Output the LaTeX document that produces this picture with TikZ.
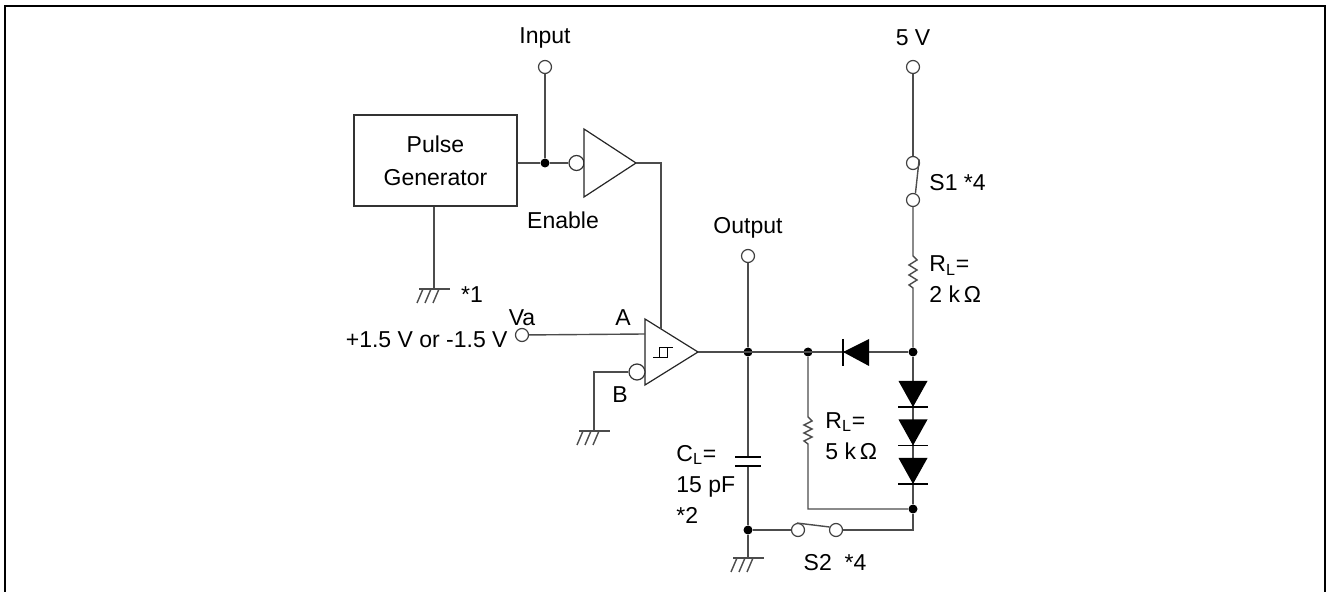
\documentclass[tikz,border=0pt]{standalone}
\usepackage{fontspec}
\setmainfont{Liberation Sans}

\begin{document}
\begin{tikzpicture}[x=0.5pt, y=-0.5pt,
    wire/.style={draw=black!70, line width=0.7pt},
    term/.style={circle, draw=black!75, line width=0.6pt, fill=white, inner sep=0pt, minimum size=6.5pt},
    dot/.style={circle, fill=black, inner sep=0pt, minimum size=4.5pt},
    bubble/.style={circle, draw=black!80, line width=0.6pt, fill=white, inner sep=0pt, minimum size=7.5pt},
    box/.style={rectangle, draw=black!80, line width=0.6pt, minimum width=81.5pt, minimum height=45.5pt,
        align=center, font=\fontsize{11.5}{16.5}\selectfont},
    lbl/.style={font=\fontsize{11.5}{15.5}\selectfont, inner sep=0pt},
    gate/.style={draw=black!85, line width=0.6pt, fill=white},
    gnd/.pic={
        \draw[wire] (-15,0) -- (16,0);
        \foreach \d in {-11,-3,5} \draw[wire] (\d,0) -- ++(-6,14);
    }
]
\useasboundingbox (0,0) rectangle (1327,592);

% Frame
\draw[line width=1.2pt] (5,592) -- (5,6) -- (1325,6) -- (1325,592);

% Terminals
\node[term] (in) at (545,67) {};
\node[lbl] (inlbl) at (545,38) {Input};
\node[term] (vcc) at (913,67) {};
\node[lbl] (vcclbl) at (913,38) {5 V};
\node[term] (out) at (748,256) {};
\node[lbl] (outlbl) at (748,228) {Output};
\node[term] (va) at (522,335) {};
\node[lbl] (valbl) at (522,318) {Va};
\node[lbl, anchor=east] (vasrc) at (508,340) {+1.5 V or -1.5 V};

% Pulse generator and enable buffer
\node[box] (pg) at (435.5,160.5) {Pulse\\Generator};
\node[dot] (j1) at (545,163) {};
\node[bubble] (enbub) at (576.5,163) {};
\coordinate (gpg) at (434,289);
\draw[gate] (584,129) -- (636,163) coordinate (bufout) -- (584,197) -- cycle;

% Comparator
\draw[gate] (645,319) -- (698,352) coordinate (cmpout) -- (645,385) -- cycle;
\coordinate (cmpa) at (645,334);
\coordinate (cmpen) at (661,329);
\node[bubble, minimum size=8pt] (bbub) at (637,372) {};
\coordinate (gb) at (594,431);
\draw[line width=0.5pt] (653,358) -- (667,358) -- (667,348);
\draw[line width=0.5pt] (659,358) -- (659,348) -- (673,348);

% Output network
\node[dot] (d1) at (748,352) {};
\node[dot] (d2) at (808,352) {};
\node[dot] (d3) at (913,352) {};
\node[dot] (d4) at (748,530) {};
\node[dot] (d5) at (913,509) {};
\coordinate (ctop) at (748,457);
\coordinate (cbot) at (748,466);
\coordinate (gout) at (748,558);
\coordinate (s2c) at (913,530);
\node[term] (s1a) at (913,163) {};
\node[term] (s1b) at (913,200) {};
\node[term] (s2a) at (798,530) {};
\node[term] (s2b) at (836,530) {};

% Wires
\draw[wire] (in) -- (j1);
\draw[wire] (pg.east |- j1) -- (j1) -- (enbub);
\draw[wire] (bufout) -| (cmpen);
\draw[wire] (gpg |- pg.south) -- (gpg);
\draw[wire] (va) -- (cmpa);
\draw[wire] (bbub) -| (gb);
\draw[wire] (cmpout) -- (d3);
\draw[wire] (out) -- (d1);
\draw[wire] (d1) -- (ctop);
\draw[wire] (cbot) -- (d4) -- (gout);
\draw[wire] (d4) -- (s2a);
\draw[wire] (s2b) -- (s2c) -- (d5);
\draw[wire] (vcc) -- (s1a);
\draw[wire] (s1a.30) -- (s1b.70);
\draw[wire] (s2a.100) -- (s2b.155);
\draw[wire] (s1b) -- (913,256) -- (917,260) -- (909,265) -- (917,270) -- (909,275) -- (917,280) -- (909,285) -- (913,288) -- (d3);
\draw[wire] (d3) -- (d5);
\draw[wire] (d2) -- (808,417) -- (812,421) -- (804,425) -- (812,429) -- (804,433) -- (812,437) -- (804,441) -- (808,444) |- (d5);

% Grounds
\pic at (gpg) {gnd};
\pic at (gb) {gnd};
\pic at (gout) {gnd};

% Capacitor
\draw[line width=0.7pt] (735,457) -- (761,457);
\draw[line width=0.7pt] (735,466) -- (761,466);

% Diodes
\fill (843,352) -- (869,339) -- (869,366) -- cycle;
\draw[line width=0.7pt] (843,339) -- (843,366);
\foreach \t in {381,419.5,458} {
    \fill (898.5,\t) -- (927.5,\t) -- (913,\t+26) -- cycle;
    \draw[line width=0.7pt] (898,\t+26) -- (928,\t+26);
}

% Labels
\node[lbl] (enlbl) at (563,220) {Enable};
\node[lbl] (pgstar) at (472,295) {*1};
\node[lbl] (alb) at (623,318) {A};
\node[lbl] (blb) at (620,395) {B};
\node[lbl, anchor=west] (s1lbl) at (929,183) {S1 *4};
\node[lbl, anchor=west, align=left] (rl2lbl) at (929,279) {R\textsubscript{L}=\\2 k\,Ω};
\node[lbl, anchor=west, align=left] (rl5lbl) at (825,436) {R\textsubscript{L}=\\5 k\,Ω};
\node[lbl, anchor=west, align=left] (cllbl) at (676,484) {C\textsubscript{L}=\\15 pF\\*2};
\node[lbl] (s2lbl) at (835,563) {S2\ \ *4};

\end{tikzpicture}
\end{document}
